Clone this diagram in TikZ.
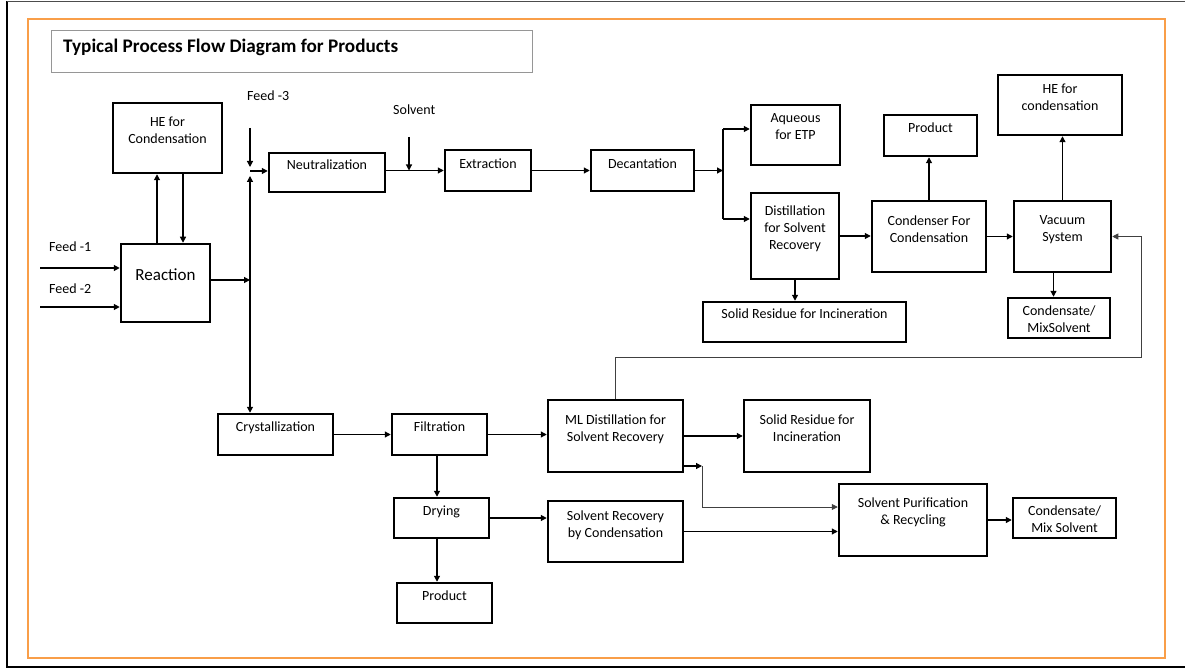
\documentclass[tikz,border=0pt]{standalone}
\usepackage{fontspec}
\setmainfont{Carlito}
\usetikzlibrary{arrows.meta}
\definecolor{frameorange}{RGB}{249,158,72}
\definecolor{titlegray}{RGB}{150,150,150}

\begin{document}
\begin{tikzpicture}[x=1pt, y=-1pt, >={Triangle[length=6pt,width=6pt]},
		box/.style={draw=black, line width=2.5pt, inner sep=0pt},
		boxsize/.style 2 args={minimum width=#1, minimum height=#2},
		btext/.style={anchor=north, align=center, inner sep=0pt, font=\fontsize{14}{17}\selectfont},
		tbox/.style 2 args={label={[btext, yshift=-#1pt]north:#2}},
		flow/.style={->, line width=1.2pt},
		thinflow/.style={->, line width=0.8pt, draw=black!75},
		feed/.style={anchor=west, inner sep=0pt, font=\fontsize{14}{17}\selectfont}]
			\useasboundingbox (0,0) rectangle (1185,668);
			
			% Frames
			\draw[frameorange, line width=2pt] (28,19) rectangle (1165,658);
			\draw[line width=2pt] (6.5,1.5) -- (6.5,667) -- (1185,667);
			\draw[black!70, line width=1.3pt] (6.5,1.5) -- (1185,1.5);
			
			% Title
			\node[draw=titlegray, line width=1pt, boxsize={481}{42}] (titlebox) at (291.5,52) {};
			\node[anchor=west, inner sep=0pt, font=\fontsize{19.2}{22}\selectfont\bfseries] (title) at (63,47) {Typical Process Flow Diagram for Products};
			
			% Feeds
			\node[feed] (feed1) at (49,247) {Feed -1};
			\node[feed] (feed2) at (49,289) {Feed -2};
			\node[feed] (feed3) at (247,96) {Feed -3};
			\node[feed] (solv) at (393,110) {Solvent};
			\coordinate (f1) at (40,268);
			\coordinate (f2) at (40,307);
			\coordinate (f3) at (250,128);
			\coordinate (nj) at (250,171);
			\coordinate (sv) at (409,137);
			\coordinate (br1) at (723,129);
			\coordinate (br2) at (723,219);
			\coordinate (rc) at (1141,357);
			\coordinate (mj) at (702,466);
			
			% Upper line
			\node[box, boxsize={109}{70}, tbox={15}{HE for\\Condensation}] (heL) at (167.5,138) {};
			\node[box, boxsize={89}{78}, label={[btext, font=\fontsize{17}{20}\selectfont, yshift=-26pt]north:Reaction}] (reac) at (165.5,283) {};
			\node[box, boxsize={116}{39}, tbox={8}{Neutralization}] (neu) at (327,172.5) {};
			\node[box, boxsize={86}{41}, tbox={10}{Extraction}] (ext) at (488,170.5) {};
			\node[box, boxsize={103}{41}, tbox={10}{Decantation}] (dec) at (642.5,170.5) {};
			\node[box, boxsize={89}{60}, tbox={10}{Aqueous\\for ETP}] (aq) at (795.5,135) {};
			\node[box, boxsize={88}{86}, tbox={14}{Distillation\\for Solvent\\Recovery}] (dis) at (795,236) {};
			\node[box, boxsize={203}{40}, tbox={8}{Solid Residue for Incineration}] (sol1) at (804.5,322) {};
			\node[box, boxsize={114}{71}, tbox={16}{Condenser For\\Condensation}] (con) at (929,236.5) {};
			\node[box, boxsize={93}{41}, tbox={9}{Product}] (pr1) at (930.5,135.5) {};
			\node[box, boxsize={97}{71}, tbox={16}{Vacuum\\System}] (vac) at (1062.5,236.5) {};
			\node[box, boxsize={124}{60}, tbox={10}{HE for\\condensation}] (he2) at (1060,105) {};
			\node[box, boxsize={102}{40}, tbox={9}{Condensate/\\MixSolvent}] (cd1) at (1059,318) {};
			
			% Lower line
			\node[box, boxsize={115}{41}, tbox={9}{Crystallization}] (cry) at (275.5,434.5) {};
			\node[box, boxsize={95}{41}, tbox={9}{Filtration}] (fil) at (439.5,434.5) {};
			\node[box, boxsize={95}{40}, tbox={9}{Drying}] (dry) at (441.5,518) {};
			\node[box, boxsize={95}{40}, tbox={9}{Product}] (pr2) at (444.5,603) {};
			\node[box, boxsize={135}{72}, tbox={16}{ML Distillation for\\Solvent Recovery}] (ml) at (615.5,436) {};
			\node[box, boxsize={126}{72}, tbox={16}{Solid Residue for\\Incineration}] (sol2) at (807,436) {};
			\node[box, boxsize={135}{61}, tbox={11}{Solvent Recovery\\by Condensation}] (sr) at (615.5,531.5) {};
			\node[box, boxsize={148}{72}, tbox={15}{Solvent Purification\\\& Recycling}] (sp) at (913,520) {};
			\node[box, boxsize={103}{40}, tbox={9}{Condensate/\\Mix Solvent}] (cd2) at (1064.5,518) {};
			
			% Connections
			\draw[flow] (f1) -- (f1 -| reac.west);
			\draw[flow] (f2) -- (f2 -| reac.west);
			\draw[flow] ([xshift=-8.5pt]reac.north) -- ([xshift=-8.5pt]reac.north |- heL.south);
			\draw[flow] ([xshift=15.5pt]heL.south) -- ([xshift=15.5pt]heL.south |- reac.north);
			\draw[flow] ([yshift=3pt]reac.east) -- ([yshift=3pt]reac.east -| nj);
			\draw[flow] (f3) -- ([yshift=4pt]nj);
			\draw[flow, <->] ([yshift=-5pt]nj) -- (nj |- cry.north);
			\draw[flow] (nj) -- (nj -| neu.west);
			\draw[flow] (neu.east |- ext.west) -- (ext.west);
			\draw[flow] (sv) -- (sv |- ext.west);
			\draw[flow] (ext) -- (dec);
			\draw[flow] (dec.east) -- (dec.east -| br1);
			\draw[line width=1.2pt] (br1) -- (br2);
			\draw[flow] (br1) -- (br1 -| aq.west);
			\draw[flow] (br2) -- (br2 -| dis.west);
			\draw[flow] (dis.south) -- (dis.south |- sol1.north);
			\draw[flow] (dis.east) -- (dis.east -| con.west);
			\draw[flow] (con.north) -- (con.north |- pr1.south);
			\draw[flow] (con) -- (vac);
			\draw[flow] (vac.north) -- (vac.north |- he2.south);
			\draw[flow] ([xshift=-9pt]vac.south) -- ([xshift=-9pt]vac.south |- cd1.north);
			\draw[thinflow] (ml.north) |- (rc) |- (vac.east);
			\draw[flow] (cry) -- (fil);
			\draw[flow] (fil.east) -- (fil.east -| ml.west);
			\draw[flow] ([xshift=-2.5pt]fil.south) -- ([xshift=-2.5pt]fil.south |- dry.north);
			\draw[flow] ([xshift=-4.5pt]dry.south) -- ([xshift=-4.5pt]dry.south |- pr2.north);
			\draw[flow] (dry.east) -- (dry.east -| sr.west);
			\draw[flow] (ml) -- (sol2);
			\draw[flow] (ml.east |- mj) -- (mj);
			\draw[thinflow] (mj) |- ([yshift=13pt]sp.west);
			\draw[flow] (sr.east) -- (sr.east -| sp.west);
			\draw[flow] (sp.east) -- (sp.east -| cd2.west);
		\end{tikzpicture}
\end{document}
